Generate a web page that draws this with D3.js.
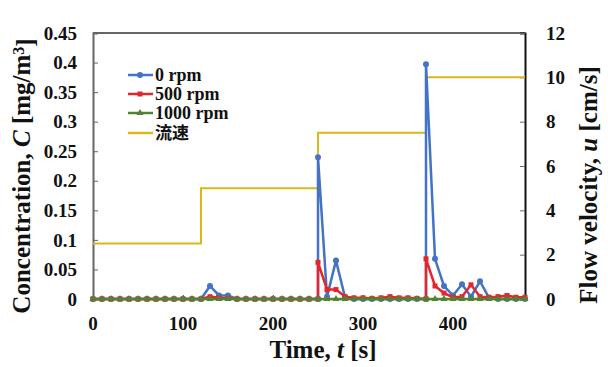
<!DOCTYPE html>
<html>
<head>
<meta charset="utf-8">
<script src="https://cdn.jsdelivr.net/npm/d3@7"></script>
<style>
  body { margin: 0; background: #fff; }
  text { font-family: "Liberation Serif", "Times New Roman", "Noto Sans CJK JP", serif; font-weight: bold; fill: #111; }
</style>
</head>
<body>
<div class="chart"></div>
<script>
// sample times (duplicates at 250 and 370 give the vertical jumps)
const times = [0,10,20,30,40,50,60,70,80,90,100,110,120,130,140,150,160,170,180,190,200,210,220,230,240,
  250,250,260,270,280,290,300,310,320,330,340,350,360,
  370,370,380,390,400,410,420,430,440,450,460,470,480];

const rpm0 = [0,0,0,0,0,0,0,0,0,0,0,0,0,0.022,0.006,0.006,0,0,0,0,0,0,0,0,0,
  0,0.24,0.004,0.065,0.003,0,0,0,0,0,0,0,0,
  0,0.397,0.068,0.022,0.006,0.025,0.004,0.03,0.002,0,0,0,0];

const rpm500 = [0,0,0,0,0,0,0,0,0,0,0,0,0,0.004,0.002,0.001,0,0,0,0,0,0,0,0,0,
  0,0.062,0.016,0.016,0.004,0.002,0.002,0.001,0.002,0.004,0.002,0.002,0.001,
  0,0.068,0.022,0.01,0.003,0.004,0.024,0.004,0.003,0.004,0.006,0.003,0.003];

const rpm1000 = times.map(() => 0);

const flowTimes = [0,120,120,250,250,370,370,480];
const flowVals = [2.5,2.5,5,5,7.5,7.5,10,10];

const xTicks = [0,100,200,300,400];
const yTicks = [0,0.05,0.1,0.15,0.2,0.25,0.3,0.35,0.4,0.45];
const yTickLabels = ["0","0.05","0.1","0.15","0.2","0.25","0.3","0.35","0.4","0.45"];
const y2Ticks = [0,2,4,6,8,10,12];

const seriesNames = ["0 rpm","500 rpm","1000 rpm","流速"];

let margin = {top: 33, right: 83, bottom: 68, left: 93};
let W = 608, H = 367;
let width = W - margin.left - margin.right;
let height = H - margin.top - margin.bottom;

let svg = d3.select(".chart").append("svg")
  .attr("width", W).attr("height", H);

let g = svg.append("g")
  .attr("transform", "translate(" + margin.left + "," + margin.top + ")");

let x = d3.scaleLinear().domain([0, 480]).range([0, width]);
let y = d3.scaleLinear().domain([0, 0.45]).range([height, 0]);
let y2 = d3.scaleLinear().domain([0, 12]).range([height, 0]);

// frame
g.append("line").attr("x1", 0).attr("x2", width).attr("y1", 0).attr("y2", 0)
  .attr("stroke", "#333").attr("stroke-width", 1.5);
g.append("line").attr("x1", 0).attr("x2", width).attr("y1", height).attr("y2", height)
  .attr("stroke", "#333").attr("stroke-width", 1.5);

// left axis
let yAxis = d3.axisRight(y).tickValues(yTicks).tickSize(5).tickFormat("");
let ya = g.append("g").call(yAxis);
ya.select(".domain").attr("stroke", "#666").attr("stroke-width", 2);
ya.selectAll(".tick line").attr("stroke", "#666");
yTicks.forEach((v, i) => {
  g.append("text").attr("x", -16).attr("y", y(v)).attr("dy", "0.35em")
    .attr("text-anchor", "end").style("font-size", "19px").text(yTickLabels[i]);
});

// right axis
let y2Axis = d3.axisLeft(y2).tickValues(y2Ticks).tickSize(5).tickFormat("");
let y2a = g.append("g").attr("transform", "translate(" + width + ",0)").call(y2Axis);
y2a.select(".domain").attr("stroke", "#111").attr("stroke-width", 2);
y2a.selectAll(".tick line").attr("stroke", "#666");
y2Ticks.forEach(v => {
  g.append("text").attr("x", width + 21).attr("y", y2(v)).attr("dy", "0.35em")
    .attr("text-anchor", "start").style("font-size", "19px").text(v);
});

// bottom axis
let xAxis = d3.axisTop(x).tickValues(xTicks).tickSize(4).tickFormat("");
let xa = g.append("g").attr("transform", "translate(0," + height + ")").call(xAxis);
xa.select(".domain").remove();
xa.selectAll(".tick line").attr("stroke", "#666");
xTicks.forEach(v => {
  g.append("text").attr("x", x(v)).attr("y", height + 24).attr("dy", "0.35em")
    .attr("text-anchor", "middle").style("font-size", "19px").text(v);
});

// flow velocity step line
let flowLine = d3.line().x((d, i) => x(flowTimes[i])).y(d => y2(d));
g.append("path").datum(flowVals).attr("d", flowLine)
  .attr("fill", "none").attr("stroke", "#D8B81C").attr("stroke-width", 2);

let line = d3.line().x((d, i) => x(times[i])).y(d => y(d));

// 0 rpm
g.append("path").datum(rpm0).attr("d", line)
  .attr("fill", "none").attr("stroke", "#4472C4").attr("stroke-width", 2.5);
g.selectAll(".m0").data(rpm0).enter().append("circle")
  .attr("cx", (d, i) => x(times[i])).attr("cy", d => y(d)).attr("r", 3)
  .attr("fill", "#4472C4");

// 500 rpm
g.append("path").datum(rpm500).attr("d", line)
  .attr("fill", "none").attr("stroke", "#E3262B").attr("stroke-width", 2.5);
g.selectAll(".m500").data(rpm500).enter().append("rect")
  .attr("x", (d, i) => x(times[i]) - 2.5).attr("y", d => y(d) - 2.5)
  .attr("width", 5).attr("height", 5).attr("fill", "#E3262B");

// 1000 rpm
g.append("path").datum(rpm1000).attr("d", line)
  .attr("fill", "none").attr("stroke", "#548235").attr("stroke-width", 2.5);
let tri = d3.symbol().type(d3.symbolTriangle).size(22);
g.selectAll(".m1000").data(rpm1000).enter().append("path")
  .attr("d", tri)
  .attr("transform", (d, i) => "translate(" + x(times[i]) + "," + y(d) + ")")
  .attr("fill", "#548235");

// legend
let legendY = [75, 94, 113, 133];
let legendColors = ["#4472C4", "#E3262B", "#548235", "#D8B81C"];
let lg = svg.append("g");
seriesNames.forEach((name, i) => {
  lg.append("line").attr("x1", 128).attr("x2", 153).attr("y1", legendY[i]).attr("y2", legendY[i])
    .attr("stroke", legendColors[i]).attr("stroke-width", 2.5);
  if (i == 0) lg.append("circle").attr("cx", 140).attr("cy", legendY[i]).attr("r", 3).attr("fill", legendColors[i]);
  if (i == 1) lg.append("rect").attr("x", 137.5).attr("y", legendY[i] - 2.5).attr("width", 5).attr("height", 5).attr("fill", legendColors[i]);
  if (i == 2) lg.append("path").attr("d", tri).attr("transform", "translate(140," + legendY[i] + ")").attr("fill", legendColors[i]);
  lg.append("text").attr("x", 155).attr("y", legendY[i]).attr("dy", "0.35em")
    .style("font-size", i == 3 ? "17px" : "18px")
    .text(name);
});

// axis titles
let xt = svg.append("text").attr("x", 323).attr("y", 358)
  .attr("text-anchor", "middle").style("font-size", "25px");
xt.append("tspan").text("Time, ");
xt.append("tspan").style("font-style", "italic").text("t");
xt.append("tspan").text(" [s]");

let lt = svg.append("text").attr("transform", "translate(30,176) rotate(-90)")
  .attr("text-anchor", "middle").style("font-size", "25px");
lt.append("tspan").text("Concentration, ");
lt.append("tspan").style("font-style", "italic").text("C");
lt.append("tspan").text(" [mg/m");
lt.append("tspan").attr("dy", "-0.4em").style("font-size", "16px").text("3");
lt.append("tspan").attr("dy", "0.4em").text("]");

let rt = svg.append("text").attr("transform", "translate(597,185) rotate(-90)")
  .attr("text-anchor", "middle").style("font-size", "25px");
rt.append("tspan").text("Flow velocity, ");
rt.append("tspan").style("font-style", "italic").text("u");
rt.append("tspan").text(" [cm/s]");
</script>
</body>
</html>
